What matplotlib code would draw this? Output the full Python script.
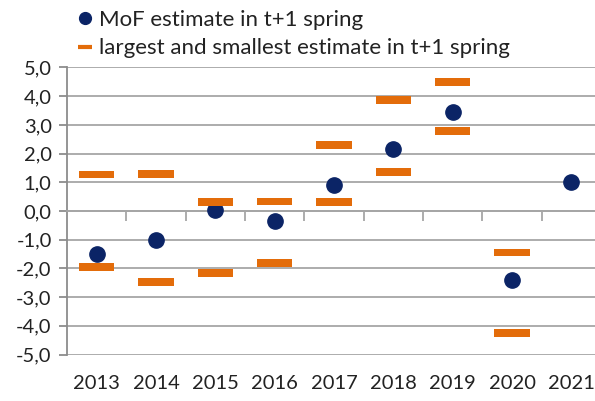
import numpy as np
import matplotlib.pyplot as plt
from matplotlib.lines import Line2D

plt.rcParams['font.family'] = ['Lato', 'DejaVu Sans']

years = ['2013', '2014', '2015', '2016', '2017', '2018', '2019', '2020', '2021']
mof_estimate = [-1.5, -1.0, 0.05, -0.35, 0.9, 2.15, 3.45, -2.4, 1.0]
largest = [1.27, 1.29, 0.32, 0.33, 2.3, 3.87, 4.5, -1.45, np.nan]
smallest = [-1.94, -2.47, -2.15, -1.8, 0.32, 1.35, 2.8, -4.25, np.nan]
yticks = [-5, -4, -3, -2, -1, 0, 1, 2, 3, 4, 5]
ytick_labels = ['-5,0', '-4,0', '-3,0', '-2,0', '-1,0', '0,0', '1,0', '2,0', '3,0', '4,0', '5,0']

navy = '#0b2466'
orange = '#e36c0a'
grid_c = '#a6a6a6'

fig = plt.figure(figsize=(5.95, 4.01), dpi=100)
ax = fig.add_axes([67 / 595, 1 - 354.5 / 401, 534 / 595, 287 / 401])

x = np.arange(len(years))
ax.set_xlim(-0.5, len(years) - 0.5)
ax.set_ylim(-5, 5)

for y in yticks:
    ax.axhline(y, color=grid_c, lw=1.3, zorder=1)

ax.plot(x, mof_estimate, 'o', color=navy, markersize=11, zorder=3)
bar_h = 0.27
for series in (largest, smallest):
    vals = np.array(series)
    ok = ~np.isnan(vals)
    ax.bar(x[ok], bar_h, bottom=vals[ok] - bar_h / 2, width=0.59, color=orange, zorder=4)

ax.spines['top'].set_visible(False)
ax.spines['right'].set_visible(False)
ax.spines['left'].set_color('#8c8c8c')
ax.spines['left'].set_linewidth(1.3)
ax.spines['bottom'].set_position(('data', 0))
ax.spines['bottom'].set_color(grid_c)
ax.spines['bottom'].set_linewidth(1.3)

ax.set_yticks(yticks)
ax.set_yticklabels(ytick_labels, fontsize=14.5, color='#222222')
ax.tick_params(axis='y', length=6, width=1.3, color='#8c8c8c', pad=5)

ax.set_xticks(np.arange(len(years) - 1) + 0.5)
ax.set_xticklabels([])
ax.tick_params(axis='x', length=7, width=1.3, color=grid_c, direction='out')

for xi, lab in zip(x, years):
    ax.text(xi, -0.1, lab, transform=ax.get_xaxis_transform(), ha='center', va='center',
            fontsize=14.5, color='#222222')

handles = [Line2D([], [], marker='o', color=navy, linestyle='none', markersize=8.5),
           Line2D([], [], color=orange, lw=3, solid_capstyle='butt')]
fig.legend(handles, ['MoF estimate in t+1 spring', 'largest and smallest estimate in t+1 spring'],
           loc='upper left', bbox_to_anchor=(0.098, 1.025), frameon=False, fontsize=16,
           handlelength=0.6, handletextpad=0.35, labelspacing=0.38, labelcolor='#222222')

fig.savefig('out.png', dpi=100)
